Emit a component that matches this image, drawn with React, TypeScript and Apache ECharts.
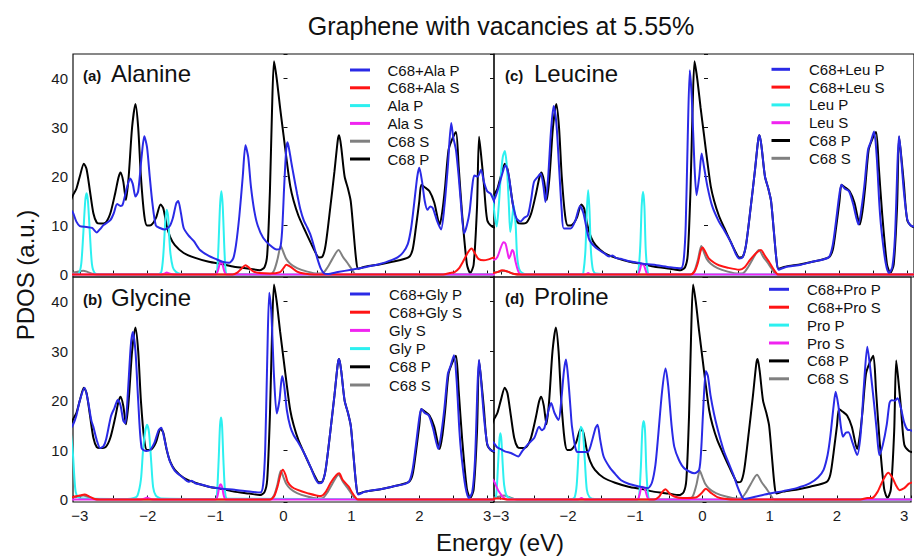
import React, { useEffect, useRef } from 'react';
import * as echarts from 'echarts';

type Pt = [number, number];

// ---------- shared pristine curves (C68) ----------
const c68P: Pt[] = [
  [-3.15, 14.5], [-3.1, 16.2], [-3.05, 17.5], [-3.0, 20], [-2.94, 22.6], [-2.9, 21.5], [-2.85, 17], [-2.8, 12.5],
  [-2.75, 10.6], [-2.7, 10.4], [-2.62, 10.6], [-2.55, 12.5], [-2.48, 16.5], [-2.43, 19.8], [-2.4, 20.8], [-2.36, 19],
  [-2.32, 15.2], [-2.28, 20], [-2.23, 30], [-2.18, 34.8], [-2.14, 30], [-2.1, 20], [-2.05, 12], [-2.01, 10],
  [-1.95, 10.1], [-1.88, 11.5], [-1.81, 14.3], [-1.77, 13.5], [-1.72, 10], [-1.67, 7.7], [-1.6, 6], [-1.47, 4.4],
  [-1.3, 3.4], [-1.1, 2.6], [-0.9, 2.1], [-0.73, 1.6], [-0.5, 1.2], [-0.35, 0.9], [-0.28, 1.5], [-0.24, 4],
  [-0.2, 17], [-0.17, 33], [-0.14, 43.5], [-0.1, 40], [-0.05, 34], [0.0, 28.5], [0.05, 23], [0.1, 18],
  [0.15, 15], [0.22, 12], [0.3, 9.5], [0.4, 6.5], [0.47, 4.5], [0.52, 3.5], [0.57, 3.6], [0.62, 6],
  [0.69, 13.8], [0.75, 21], [0.8, 27.5], [0.82, 28.4], [0.85, 26], [0.9, 20], [0.95, 17.5], [0.99, 15],
  [1.03, 9], [1.07, 3], [1.1, 1.2], [1.2, 1.6], [1.43, 2.1], [1.6, 2.6], [1.84, 3.5], [1.9, 5],
  [1.95, 9.6], [2.0, 15], [2.03, 18.3], [2.08, 17.8], [2.15, 17], [2.22, 14.7], [2.3, 10.2], [2.34, 13],
  [2.38, 17.9], [2.43, 25.4], [2.48, 27.5], [2.54, 29.1], [2.58, 22], [2.63, 12.4], [2.7, 2.2], [2.75, 0.3],
  [2.8, 2], [2.85, 13.8], [2.88, 28.1], [2.92, 23], [2.95, 18.6], [3.0, 11.1], [3.07, 9.8], [3.15, 9.5],
];
const c68S: Pt[] = [
  [-3.15, 0.3], [-3.05, 0.5], [-2.95, 0.8], [-2.88, 0.5], [-2.8, 0.1], [-2.7, 0], [-0.2, 0], [-0.14, 0.8],
  [-0.09, 3], [-0.04, 5.8], [0.0, 4.5], [0.04, 3.2], [0.1, 2.2], [0.2, 1.3], [0.35, 0.6], [0.5, 0.2],
  [0.58, 0.3], [0.65, 1.5], [0.72, 3.2], [0.81, 5.0], [0.88, 3.5], [0.94, 2.4], [1.0, 1.2], [1.07, 0], [3.15, 0],
];

// ---------- (a) Alanine ----------
const alaComplexP: Pt[] = [
  [-3.15, 13.5], [-3.1, 12.6], [-3.05, 10.8], [-3.0, 9.9], [-2.9, 9.7], [-2.82, 9.5], [-2.75, 8.6], [-2.7, 9.3],
  [-2.65, 10.1], [-2.55, 11.1], [-2.5, 12.5], [-2.45, 14.4], [-2.4, 14], [-2.37, 14.2], [-2.31, 17.5], [-2.26, 19.6],
  [-2.22, 18.5], [-2.18, 15.9], [-2.14, 17], [-2.09, 24], [-2.05, 28.2], [-2.01, 26], [-1.97, 20], [-1.93, 14.5],
  [-1.88, 10], [-1.82, 9.5], [-1.75, 9.2], [-1.68, 9.8], [-1.63, 11.5], [-1.58, 14.5], [-1.55, 15.0], [-1.51, 12.5],
  [-1.47, 9.5], [-1.4, 8], [-1.32, 6.8], [-1.23, 5.0], [-1.1, 3.8], [-1.0, 3.2], [-0.9, 2.6], [-0.8, 2.4],
  [-0.74, 3.3], [-0.7, 6], [-0.65, 12], [-0.6, 20], [-0.56, 26.4], [-0.52, 24], [-0.48, 18], [-0.43, 13],
  [-0.38, 10], [-0.3, 7.5], [-0.2, 6], [-0.1, 5.1], [-0.05, 5.3], [-0.02, 9], [0.01, 18], [0.04, 25.5],
  [0.06, 27], [0.09, 25], [0.12, 22.5], [0.15, 20.2], [0.2, 16.5], [0.25, 13.2], [0.3, 11], [0.35, 9.6],
  [0.4, 8], [0.45, 5.7], [0.5, 3.2], [0.55, 1.2], [0.6, 0.2], [0.65, 0.1], [0.8, 0.5], [1.0, 1.0],
  [1.2, 1.5], [1.43, 2.2], [1.6, 3.0], [1.68, 3.5], [1.76, 4.5], [1.83, 6.2], [1.88, 9.5], [1.92, 14],
  [1.97, 20], [2.0, 21.8], [2.04, 19], [2.08, 15], [2.12, 13.2], [2.16, 13.9], [2.2, 13.5], [2.26, 11],
  [2.32, 9.2], [2.37, 14], [2.42, 22], [2.47, 30.9], [2.5, 28], [2.54, 25.4], [2.58, 20], [2.61, 15],
  [2.66, 8.4], [2.7, 10], [2.74, 12.8], [2.78, 18], [2.81, 20.2], [2.86, 20], [2.91, 21.4], [2.95, 19],
  [3.0, 17], [3.05, 16.5], [3.1, 15], [3.15, 14],
];
const alaComplexS: Pt[] = [
  [-3.15, 0], [-0.75, 0], [-0.68, 0.4], [-0.62, 1.2], [-0.56, 1.9], [-0.5, 1.3], [-0.44, 0.6], [-0.35, 0.3],
  [-0.2, 0.2], [-0.05, 0.5], [0.0, 1.3], [0.04, 2.0], [0.1, 1.6], [0.2, 0.6], [0.3, 0.2], [0.45, 0],
  [2.35, 0], [2.45, 0.3], [2.52, 0.5], [2.58, 1.2], [2.65, 2.8], [2.72, 4.6], [2.77, 5.3], [2.82, 4.3],
  [2.87, 3.2], [2.95, 2.9], [3.02, 3.1], [3.08, 3.4], [3.15, 3.6],
];
const alaP: Pt[] = [
  [-3.15, 0], [-3.02, 0.2], [-2.98, 2], [-2.95, 8], [-2.92, 15], [-2.9, 16.6], [-2.88, 15], [-2.85, 8],
  [-2.82, 2], [-2.78, 0.3], [-2.7, 0], [-1.85, 0], [-1.8, 0.5], [-1.77, 4], [-1.74, 11], [-1.72, 13.2],
  [-1.7, 12], [-1.67, 5], [-1.63, 1.5], [-1.58, 0.5], [-1.5, 0.1], [-1.0, 0], [-0.98, 0.5], [-0.96, 5],
  [-0.935, 14], [-0.915, 17.0], [-0.895, 14], [-0.87, 5], [-0.85, 0.5], [-0.82, 0], [3.15, 0],
];
const alaS: Pt[] = [
  [-3.15, 0], [-1.8, 0], [-1.75, 0.2], [-1.72, 0.4], [-1.68, 0.2], [-1.62, 0], [-1.0, 0], [-0.97, 0.6],
  [-0.94, 2.1], [-0.92, 2.6], [-0.9, 2.1], [-0.87, 0.6], [-0.84, 0], [3.15, 0],
];

// ---------- (b) Glycine ----------
const glyComplexP: Pt[] = [
  [-3.15, 14], [-3.1, 15.1], [-3.05, 17], [-3.0, 20], [-2.93, 22.6], [-2.88, 20], [-2.83, 16], [-2.8, 14.7],
  [-2.75, 12], [-2.7, 10.4], [-2.65, 10.8], [-2.61, 12.3], [-2.54, 16.9], [-2.49, 18.5], [-2.44, 20.2], [-2.4, 19],
  [-2.36, 16], [-2.33, 15.4], [-2.29, 22], [-2.25, 31], [-2.22, 33.9], [-2.18, 30], [-2.14, 20], [-2.09, 10.4],
  [-2.02, 9.8], [-1.96, 10.1], [-1.9, 11.5], [-1.84, 14], [-1.8, 14.5], [-1.75, 12], [-1.7, 9], [-1.67, 7.6],
  [-1.6, 5.8], [-1.47, 4.3], [-1.4, 3.6], [-1.35, 3.8], [-1.3, 3.3], [-1.2, 3.0], [-1.1, 2.6], [-0.9, 2.2],
  [-0.72, 2.0], [-0.5, 1.6], [-0.34, 1.4], [-0.3, 3], [-0.27, 10], [-0.24, 28], [-0.21, 41.8], [-0.18, 38],
  [-0.14, 25], [-0.1, 17.4], [-0.06, 20], [-0.02, 25], [0.01, 23], [0.05, 18], [0.1, 14.7], [0.15, 13],
  [0.22, 11.5], [0.3, 9.5], [0.4, 6.5], [0.47, 4.2], [0.52, 3.3], [0.57, 3.5], [0.62, 6], [0.69, 13.8],
  [0.75, 21], [0.8, 27.5], [0.82, 28.4], [0.85, 26], [0.9, 20], [0.95, 17.5], [0.99, 15], [1.03, 9],
  [1.07, 3], [1.1, 1.0], [1.2, 1.6], [1.43, 2.1], [1.6, 2.6], [1.84, 3.5], [1.9, 6], [1.95, 11],
  [2.0, 16.5], [2.03, 18.3], [2.08, 17.5], [2.14, 17], [2.2, 14.5], [2.28, 10.2], [2.33, 14], [2.37, 18.5],
  [2.42, 25.4], [2.46, 27], [2.51, 29.2], [2.55, 24], [2.59, 14], [2.62, 9], [2.68, 2.5], [2.73, 0.3],
  [2.78, 1.5], [2.82, 8], [2.86, 24], [2.88, 28.2], [2.91, 24], [2.95, 17], [3.0, 11.3], [3.05, 10],
  [3.1, 9.8], [3.15, 9.5],
];
const glyComplexS: Pt[] = [
  [-3.15, 0.4], [-3.1, 0.5], [-3.0, 0.8], [-2.93, 1.0], [-2.86, 0.6], [-2.78, 0.1], [-2.7, 0], [-0.2, 0],
  [-0.14, 0.6], [-0.09, 2.5], [-0.04, 5.2], [-0.01, 6.0], [0.03, 5], [0.06, 3.6], [0.12, 2.6], [0.2, 2.0],
  [0.35, 1.3], [0.55, 0.7], [0.62, 1.5], [0.7, 3.5], [0.78, 5], [0.82, 5.3], [0.87, 4], [0.96, 2.6],
  [1.02, 1.2], [1.1, 0], [3.15, 0],
];
const glyS: Pt[] = [
  [-3.15, 0], [-2.1, 0], [-2.04, 0.2], [-2.01, 0.4], [-1.98, 0.2], [-1.92, 0], [-1.0, 0], [-0.97, 0.8],
  [-0.945, 2.6], [-0.925, 3.1], [-0.905, 2.6], [-0.88, 0.8], [-0.85, 0], [3.15, 0],
];
const glyP: Pt[] = [
  [-3.15, 16], [-3.1, 9], [-3.08, 4.5], [-3.06, 1.5], [-3.02, 0.4], [-2.95, 0.2], [-2.3, 0.1], [-2.2, 0.3],
  [-2.15, 0.8], [-2.1, 4], [-2.07, 9.7], [-2.04, 13.5], [-2.01, 15.1], [-1.98, 13.5], [-1.95, 8], [-1.92, 2.5],
  [-1.88, 0.8], [-1.8, 0.2], [-1.0, 0.1], [-0.98, 1], [-0.955, 8], [-0.935, 15], [-0.92, 16.6], [-0.905, 15],
  [-0.885, 8], [-0.86, 1.5], [-0.83, 0.2], [3.15, 0],
];

// ---------- (c) Leucine ----------
const leuComplexP: Pt[] = [
  [-3.15, 14.5], [-3.1, 15.2], [-3.05, 17], [-3.0, 19.5], [-2.93, 22.3], [-2.88, 20], [-2.83, 15], [-2.77, 11.5],
  [-2.71, 10.8], [-2.66, 11.5], [-2.6, 12.1], [-2.55, 15.5], [-2.51, 18.9], [-2.45, 20], [-2.41, 20.6], [-2.37, 18],
  [-2.34, 14.8], [-2.3, 20], [-2.26, 29], [-2.22, 34.4], [-2.18, 31], [-2.14, 22], [-2.1, 13], [-2.07, 9.4],
  [-1.97, 9.4], [-1.9, 11], [-1.83, 14.0], [-1.78, 12.5], [-1.72, 8.5], [-1.69, 7.0], [-1.6, 5.5], [-1.47, 4.3],
  [-1.4, 3.7], [-1.35, 3.9], [-1.3, 3.4], [-1.2, 3.1], [-1.1, 2.7], [-0.9, 2.2], [-0.7, 1.9], [-0.5, 1.5],
  [-0.34, 1.3], [-0.3, 3], [-0.27, 10], [-0.24, 28], [-0.21, 41.7], [-0.18, 36], [-0.14, 22], [-0.11, 16.2],
  [-0.07, 20], [-0.035, 24.7], [0.0, 22], [0.05, 18], [0.12, 14], [0.22, 10.8], [0.3, 9], [0.4, 6.5],
  [0.47, 4.2], [0.52, 3.3], [0.57, 3.5], [0.62, 6], [0.69, 13.8], [0.75, 21], [0.8, 27.5], [0.82, 28.4],
  [0.85, 26], [0.9, 20], [0.95, 17.5], [0.99, 15], [1.03, 9], [1.07, 3], [1.1, 1.0], [1.2, 1.5],
  [1.43, 2.0], [1.6, 2.6], [1.84, 3.5], [1.9, 6], [1.95, 11], [2.0, 16.5], [2.03, 18.3], [2.08, 17.5],
  [2.14, 17], [2.2, 14.5], [2.28, 10.2], [2.33, 14], [2.37, 18.5], [2.42, 25.4], [2.46, 27], [2.51, 29.2],
  [2.55, 24], [2.59, 14], [2.62, 9], [2.68, 2.5], [2.73, 0.3], [2.78, 1.5], [2.82, 8], [2.86, 24],
  [2.88, 28.2], [2.91, 24], [2.95, 17], [3.0, 11.3], [3.05, 10], [3.1, 9.8], [3.15, 9.5],
];
const leuComplexS: Pt[] = [
  [-3.15, 0.2], [-3.05, 0.5], [-2.98, 0.9], [-2.9, 0.6], [-2.8, 0.1], [-2.7, 0], [-0.2, 0], [-0.14, 0.6],
  [-0.09, 2.4], [-0.05, 4.8], [-0.02, 5.5], [0.02, 4.6], [0.07, 3.3], [0.15, 2.4], [0.22, 1.9], [0.35, 1.4],
  [0.52, 1.0], [0.6, 1.5], [0.68, 3], [0.78, 4.5], [0.84, 5.0], [0.9, 3.8], [0.96, 2.6], [1.03, 1.0],
  [1.1, 0], [3.15, 0],
];
const leuP: Pt[] = [
  [-3.15, 17], [-3.12, 16], [-3.09, 12], [-3.06, 9.8], [-3.03, 14], [-3.0, 20], [-2.97, 24], [-2.94, 25.2],
  [-2.91, 22], [-2.88, 14], [-2.86, 8.7], [-2.835, 11], [-2.81, 14.2], [-2.78, 10], [-2.76, 4], [-2.73, 1.2],
  [-2.68, 0.3], [-2.6, 0], [-1.8, 0], [-1.78, 0.5], [-1.75, 5], [-1.73, 13], [-1.71, 17.2], [-1.69, 13],
  [-1.67, 5], [-1.64, 1], [-1.6, 0.2], [-1.0, 0], [-0.97, 0.5], [-0.94, 6], [-0.92, 14], [-0.9, 16.9],
  [-0.88, 14], [-0.86, 5], [-0.83, 0.5], [-0.8, 0], [3.15, 0],
];
const leuS: Pt[] = [
  [-3.15, 3.3], [-3.1, 3.0], [-3.05, 3.6], [-3.0, 5.5], [-2.96, 6.6], [-2.93, 6.3], [-2.9, 4.5], [-2.88, 3.3],
  [-2.86, 3.8], [-2.83, 5.0], [-2.81, 4.6], [-2.78, 2.5], [-2.74, 0.6], [-2.7, 0], [-1.75, 0], [-1.71, 0.3],
  [-1.67, 0], [-0.98, 0], [-0.95, 0.8], [-0.92, 2.1], [-0.89, 2.0], [-0.86, 0.8], [-0.83, 0], [3.15, 0],
];

// ---------- (d) Proline ----------
const proComplexP: Pt[] = [
  [-3.15, 12], [-3.1, 11.4], [-3.05, 10.5], [-3.0, 10.2], [-2.93, 9.7], [-2.85, 9.4], [-2.74, 8.7], [-2.68, 9.8],
  [-2.58, 11.4], [-2.5, 12.5], [-2.43, 14.7], [-2.39, 14], [-2.35, 14.5], [-2.29, 18], [-2.25, 19.5], [-2.2, 17.5],
  [-2.14, 16.1], [-2.1, 20], [-2.06, 26], [-2.03, 28.3], [-2.0, 25], [-1.96, 18], [-1.94, 14.7], [-1.87, 9.7],
  [-1.8, 9.6], [-1.7, 9.7], [-1.64, 12], [-1.59, 14.5], [-1.56, 15.1], [-1.52, 12], [-1.47, 8.7], [-1.38, 6.5],
  [-1.3, 5.2], [-1.21, 3.9], [-1.1, 3.2], [-0.96, 2.7], [-0.81, 2.3], [-0.75, 3.5], [-0.7, 7], [-0.66, 12.7],
  [-0.6, 22], [-0.55, 26.5], [-0.51, 23], [-0.46, 15], [-0.42, 10.7], [-0.35, 8], [-0.27, 6.3], [-0.12, 5.3],
  [-0.05, 6], [-0.02, 10], [0.01, 18], [0.05, 26], [0.08, 25], [0.12, 21], [0.17, 17.4], [0.22, 14.5],
  [0.27, 12], [0.32, 9.7], [0.4, 7], [0.46, 5], [0.52, 2.6], [0.57, 1.0], [0.62, 0.1], [0.8, 0.6],
  [1.0, 1.2], [1.2, 1.7], [1.4, 2.3], [1.6, 3.3], [1.72, 4.5], [1.8, 6], [1.86, 9], [1.9, 12.7],
  [1.95, 19], [1.98, 21.8], [2.02, 19], [2.06, 14.5], [2.09, 12.7], [2.13, 13.5], [2.17, 13.6], [2.23, 11.5],
  [2.3, 9.0], [2.35, 13], [2.4, 23], [2.45, 30.9], [2.49, 27], [2.55, 19.5], [2.59, 14], [2.63, 9.0],
  [2.68, 11], [2.74, 15.2], [2.78, 19.5], [2.81, 20.1], [2.86, 20], [2.9, 20.5], [2.95, 18.5], [3.0, 15.5],
  [3.05, 14.1], [3.1, 14], [3.15, 13.5],
];
const proComplexS: Pt[] = [
  [-3.15, 0.2], [-3.0, 0.2], [-2.9, 0], [-0.72, 0], [-0.65, 0.5], [-0.6, 1.5], [-0.55, 2.1], [-0.49, 1.2],
  [-0.42, 0.6], [-0.3, 0.3], [-0.1, 0.4], [-0.02, 1.2], [0.05, 2.2], [0.12, 1.4], [0.22, 0.5], [0.35, 0.1],
  [0.5, 0], [2.35, 0], [2.45, 0.3], [2.52, 0.3], [2.6, 1.5], [2.68, 3.8], [2.76, 5.4], [2.82, 4.5],
  [2.88, 2.8], [2.93, 1.9], [3.0, 2.3], [3.07, 3.2], [3.15, 3.6],
];
const proP: Pt[] = [
  [-3.15, 0], [-3.08, 0.2], [-3.06, 2], [-3.04, 7], [-3.02, 12], [-3.005, 13.4], [-2.99, 12], [-2.97, 7],
  [-2.95, 3], [-2.92, 1], [-2.88, 0.4], [-2.8, 0.1], [-1.95, 0], [-1.9, 0.5], [-1.87, 3], [-1.84, 10],
  [-1.81, 14.7], [-1.78, 14], [-1.75, 8], [-1.72, 2], [-1.68, 0.5], [-1.6, 0.1], [-0.96, 0], [-0.94, 1],
  [-0.915, 7], [-0.895, 14], [-0.875, 15.9], [-0.855, 14], [-0.835, 6], [-0.81, 1], [-0.78, 0], [3.15, 0],
];
const proS: Pt[] = [
  [-3.15, 4.5], [-3.1, 3.7], [-3.04, 1.9], [-3.0, 1.1], [-2.95, 0.3], [-2.9, 0], [-1.85, 0], [-1.8, 0.3],
  [-1.75, 0], [-0.97, 0], [-0.94, 0.8], [-0.9, 2.6], [-0.86, 2.2], [-0.82, 0.5], [-0.79, 0], [3.15, 0],
];

// ---------- texts ----------
const titleText = 'Graphene with vacancies at 5.55%';
const xTitle = 'Energy (eV)';
const yTitle = 'PDOS (a.u.)';
const panelTags = ['(a)', '(b)', '(c)', '(d)'];
const panelNames = ['Alanine', 'Glycine', 'Leucine', 'Proline'];

const BLUE = '#2a2ae6';
const RED = '#ff1414';
const CYAN = '#2cf0f0';
const MAGENTA = '#f024f0';
const GRAY = '#808080';
const BLACK = '#000000';

type Entry = { name: string; color: string; data: Pt[] };

const panelA: Entry[] = [
  { name: 'C68+Ala P', color: BLUE, data: alaComplexP },
  { name: 'C68+Ala S', color: RED, data: alaComplexS },
  { name: 'Ala P', color: CYAN, data: alaP },
  { name: 'Ala S', color: MAGENTA, data: alaS },
  { name: 'C68 S', color: GRAY, data: c68S },
  { name: 'C68 P', color: BLACK, data: c68P },
];
const panelB: Entry[] = [
  { name: 'C68+Gly P', color: BLUE, data: glyComplexP },
  { name: 'C68+Gly S', color: RED, data: glyComplexS },
  { name: 'Gly S', color: MAGENTA, data: glyS },
  { name: 'Gly P', color: CYAN, data: glyP },
  { name: 'C68 P', color: BLACK, data: c68P },
  { name: 'C68 S', color: GRAY, data: c68S },
];
const panelC: Entry[] = [
  { name: 'C68+Leu P', color: BLUE, data: leuComplexP },
  { name: 'C68+Leu S', color: RED, data: leuComplexS },
  { name: 'Leu P', color: CYAN, data: leuP },
  { name: 'Leu S', color: MAGENTA, data: leuS },
  { name: 'C68 P', color: BLACK, data: c68P },
  { name: 'C68 S', color: GRAY, data: c68S },
];
const panelD: Entry[] = [
  { name: 'C68+Pro P', color: BLUE, data: proComplexP },
  { name: 'C68+Pro S', color: RED, data: proComplexS },
  { name: 'Pro P', color: CYAN, data: proP },
  { name: 'Pro S', color: MAGENTA, data: proS },
  { name: 'C68 P', color: BLACK, data: c68P },
  { name: 'C68 S', color: GRAY, data: c68S },
];
const panels = [panelA, panelB, panelC, panelD];

// drawing order (bottom to top)
const drawOrder = [GRAY, BLACK, CYAN, MAGENTA, RED, BLUE];

const FONT = '"Liberation Sans", Arial, Helvetica, sans-serif';

export default function App() {
  const ref = useRef<HTMLDivElement>(null);
  useEffect(() => {
    if (!ref.current) return;
    const chart = echarts.init(ref.current, undefined, { renderer: 'svg' });

    const grids = [
      { left: 73, top: 54, width: 421, height: 223 },
      { left: 73, top: 277, width: 421, height: 225 },
      { left: 494, top: 54, width: 422, height: 223 },
      { left: 494, top: 277, width: 422, height: 225 },
    ];
    const showXLabels = [false, true, false, true];
    const showYLabels = [true, true, false, false];

    const xFmt = (v: number) =>
      Math.abs(v - Math.round(v)) < 1e-6 ? String(Math.round(v)).replace('-', '\u2212') : '';
    const yFmt = (v: number) =>
      v >= 0 && Math.abs(v / 10 - Math.round(v / 10)) < 1e-6 ? String(Math.round(v)) : '';

    const xAxis = grids.map((_, i) => ({
      type: 'value',
      gridIndex: i,
      min: -3.1,
      max: 3.1,
      minInterval: 0.5,
      maxInterval: 0.5,
      splitNumber: 12,
      axisLine: { show: false },
      axisTick: { show: true, inside: true, length: 4, lineStyle: { color: '#111', width: 1 } },
      splitLine: { show: false },
      axisLabel: {
        show: showXLabels[i],
        formatter: xFmt,
        margin: 6,
        fontSize: 15,
        color: '#1a1a1a',
        fontFamily: FONT,
      },
    }));

    const yAxisBase = (i: number, position: 'left' | 'right', labels: boolean) => ({
      type: 'value',
      gridIndex: i,
      position,
      min: -0.5,
      max: 45,
      minInterval: 10,
      maxInterval: 10,
      axisLine: { show: false },
      axisTick: { show: true, inside: true, length: 4, lineStyle: { color: '#111', width: 1 } },
      splitLine: { show: false },
      axisLabel: {
        show: labels,
        formatter: yFmt,
        margin: 5,
        fontSize: 15,
        color: '#1a1a1a',
        fontFamily: FONT,
      },
    });
    const yAxis = [
      ...grids.map((_, i) => yAxisBase(i, 'left', showYLabels[i])),
      yAxisBase(0, 'right', false),
      yAxisBase(1, 'right', false),
    ];

    const series: any[] = [];
    panels.forEach((entries, i) => {
      const sorted = [...entries].sort(
        (a, b) => drawOrder.indexOf(a.color) - drawOrder.indexOf(b.color)
      );
      sorted.forEach((e, k) => {
        series.push({
          type: 'line',
          name: e.name,
          xAxisIndex: i,
          yAxisIndex: i,
          data: e.data,
          showSymbol: false,
          symbol: 'none',
          smooth: 0.25,
          clip: true,
          silent: true,
          z: 2 + k,
          lineStyle: { color: e.color, width: 2 },
        });
      });
    });

    const graphic: any[] = [];
    graphic.push({
      type: 'text',
      x: 501,
      y: 26,
      style: { text: titleText, font: `25px ${FONT}`, fill: '#111', textAlign: 'center', textVerticalAlign: 'middle' },
    });
    graphic.push({
      type: 'text',
      x: 500,
      y: 542,
      style: { text: xTitle, font: `24px ${FONT}`, fill: '#111', textAlign: 'center', textVerticalAlign: 'middle' },
    });
    graphic.push({
      type: 'text',
      x: 25,
      y: 275,
      rotation: Math.PI / 2,
      style: { text: yTitle, font: `24px ${FONT}`, fill: '#111', textAlign: 'center', textVerticalAlign: 'middle' },
    });

    const tagPos = [
      { tx: 83, nx: 111, ty: 75, ny: 73.3 },
      { tx: 83, nx: 111, ty: 299.5, ny: 297.8 },
      { tx: 505, nx: 534, ty: 75, ny: 73.3 },
      { tx: 505, nx: 534, ty: 298.5, ny: 296.7 },
    ];
    tagPos.forEach((p, i) => {
      graphic.push({
        type: 'text',
        x: p.tx,
        y: p.ty,
        style: { text: panelTags[i], font: `bold 15px ${FONT}`, fill: '#111', textAlign: 'left', textVerticalAlign: 'middle' },
      });
      graphic.push({
        type: 'text',
        x: p.nx,
        y: p.ny,
        style: { text: panelNames[i], font: `24px ${FONT}`, fill: '#111', textAlign: 'left', textVerticalAlign: 'middle' },
      });
    });

    const legendPos = [
      { x0: 350, x1: 370, tx: 387.5, y0: 70, dy: 17.8 },
      { x0: 350, x1: 370, tx: 389, y0: 294, dy: 18.2 },
      { x0: 771.5, x1: 790, tx: 809, y0: 69.3, dy: 17.8 },
      { x0: 769, x1: 789, tx: 807, y0: 289.3, dy: 17.9 },
    ];
    panels.forEach((entries, i) => {
      const lp = legendPos[i];
      entries.forEach((e, k) => {
        const y = lp.y0 + k * lp.dy;
        graphic.push({
          type: 'line',
          shape: { x1: lp.x0, y1: y, x2: lp.x1, y2: y },
          style: { stroke: e.color, lineWidth: 3 },
          z: 10,
        });
        graphic.push({
          type: 'text',
          x: lp.tx,
          y: y,
          z: 10,
          style: { text: e.name, font: `15px ${FONT}`, fill: '#111', textAlign: 'left', textVerticalAlign: 'middle' },
        });
      });
    });

    chart.setOption({
      animation: false,
      backgroundColor: '#ffffff',
      grid: grids.map((g) => ({ ...g, show: true, borderColor: '#111', borderWidth: 1.2, backgroundColor: 'transparent' })),
      xAxis,
      yAxis,
      series,
      graphic,
    } as any);

    return () => chart.dispose();
  }, []);

  return (
    <div
      ref={ref}
      style={{ position: 'absolute', left: 0, top: 0, width: 914, height: 556, background: '#fff' }}
    />
  );
}
